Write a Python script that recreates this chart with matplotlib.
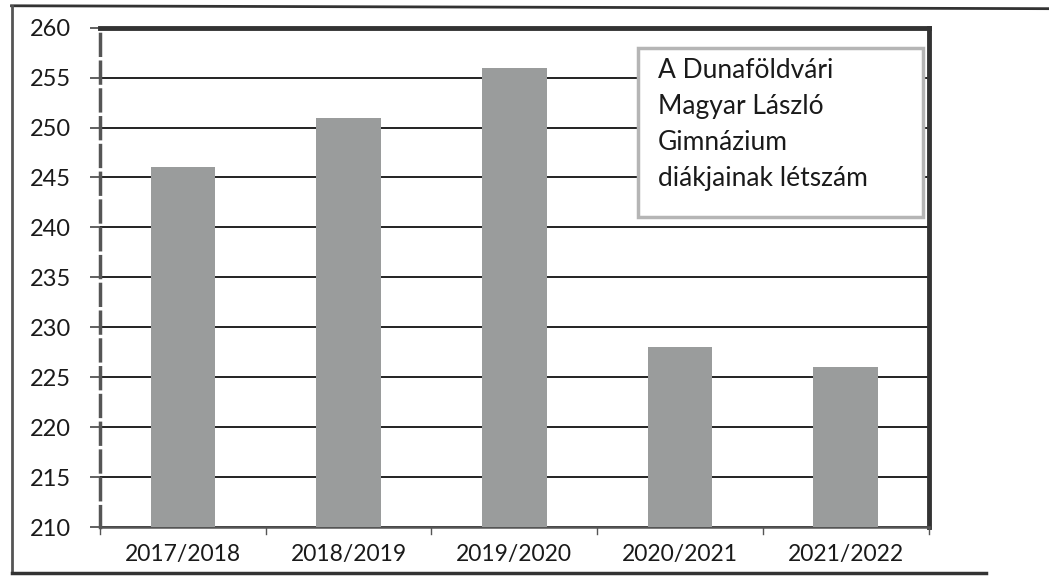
import matplotlib.pyplot as plt
import matplotlib.lines as mlines
from matplotlib.patches import Rectangle
import numpy as np

plt.rcParams['font.family'] = ['Lato', 'DejaVu Sans']

years = ['2017/2018', '2018/2019', '2019/2020', '2020/2021', '2021/2022']
students = [246, 251, 256, 228, 226]
y_ticks = list(range(210, 261, 5))
title_text = 'A Dunaföldvári\nMagyar László\nGimnázium\ndiákjainak létszám'

fig = plt.figure(figsize=(10.49, 5.78), dpi=100)
ax = fig.add_axes([0.0953, 0.0882, 0.790, 0.864])

x = np.arange(len(years))
ax.bar(x, students, width=0.39, color='#9a9c9c', zorder=3)

ax.set_ylim(210, 260)
ax.set_xlim(-0.5, len(years) - 0.5)
ax.set_yticks(y_ticks)
ax.set_yticklabels([str(t) for t in y_ticks], fontsize=17, color='#1a1a1a')
ax.set_xticks(x)
ax.set_xticklabels(years, fontsize=16.5, color='#1a1a1a')
ax.tick_params(axis='x', length=0, pad=12)
ax.tick_params(axis='y', length=7, width=1.2, color='#444444', pad=14)

# category separators below the x axis
for b in np.arange(-0.5, len(years), 1.0):
    ax.plot([b, b], [210, 209.3], color='#555555', lw=1, clip_on=False, zorder=4)

ax.yaxis.grid(True, color='#222222', linewidth=1.4, zorder=1)
ax.set_axisbelow(True)

ax.spines['left'].set_color('#555555')
ax.spines['left'].set_linewidth(2.5)
ax.spines['left'].set_linestyle((0, (6, 2)))
ax.spines['bottom'].set_color('#555555')
ax.spines['bottom'].set_linewidth(1.8)
ax.spines['top'].set_color('#333333')
ax.spines['top'].set_linewidth(3.5)
ax.spines['right'].set_color('#333333')
ax.spines['right'].set_linewidth(3.5)

# title box
ax.add_patch(Rectangle((0.649, 0.62), 0.344, 0.34, transform=ax.transAxes,
                       facecolor='white', edgecolor='#b5b5b5', linewidth=2.5,
                       zorder=5))
ax.text(0.673, 0.94, title_text, transform=ax.transAxes, ha='left', va='top',
        fontsize=19, color='#1a1a1a', linespacing=1.55, zorder=6)

# outer frame of the scanned chart
fig.add_artist(mlines.Line2D([0.011, 1.0], [0.99, 0.985], color='#333333', lw=2))
fig.add_artist(mlines.Line2D([0.011, 0.011], [0.99, 0.008], color='#555555', lw=2))
fig.add_artist(mlines.Line2D([0.011, 0.94], [0.008, 0.008], color='#333333', lw=2.5))

fig.savefig('out.png', dpi=100)
